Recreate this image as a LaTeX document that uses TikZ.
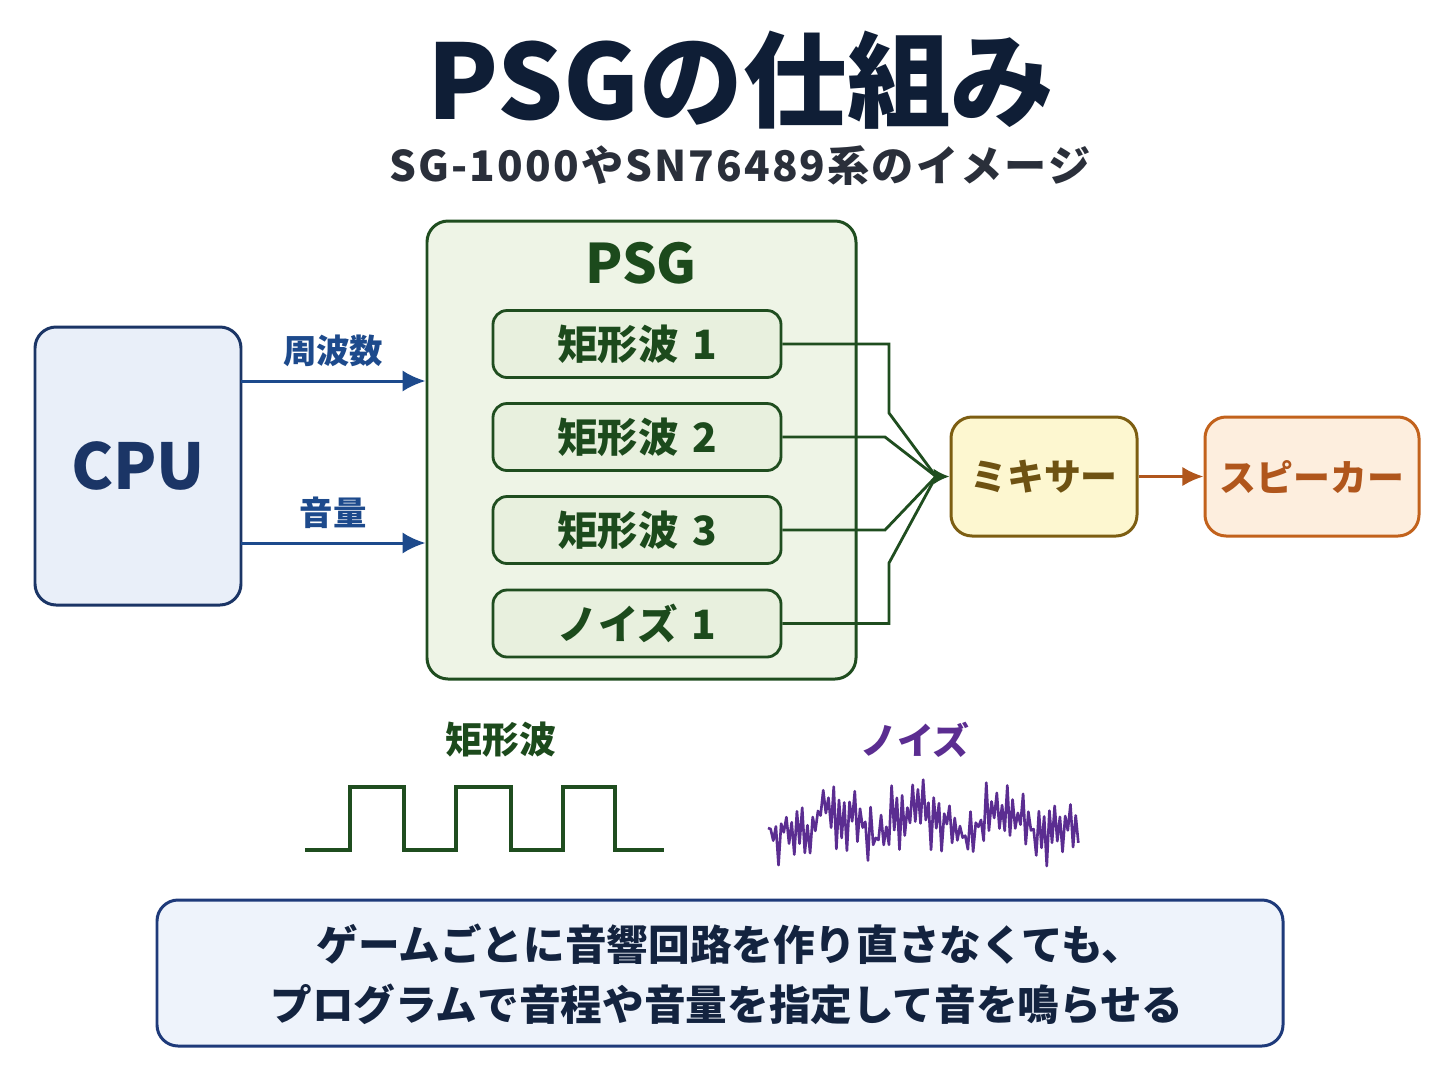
\documentclass[tikz,border=0pt]{standalone}
\usepackage{fontspec}
\setmainfont{Noto Sans CJK JP}
\newfontfamily\subfont{Noto Sans CJK JP}[LetterSpace=5]
\usetikzlibrary{arrows.meta}
\definecolor{titlec}{HTML}{0F1E36}
\definecolor{subc}{HTML}{2A2F3A}
\definecolor{cpub}{HTML}{1B3566}
\definecolor{cpuf}{HTML}{E9EFF9}
\definecolor{bluec}{HTML}{1D4A8C}
\definecolor{grb}{HTML}{1F4D1F}
\definecolor{grf}{HTML}{EEF4E6}
\definecolor{grfi}{HTML}{E8F0DE}
\definecolor{grt}{HTML}{1C4A1C}
\definecolor{mixf}{HTML}{FDF7D0}
\definecolor{mixb}{HTML}{7D5E12}
\definecolor{mixt}{HTML}{6E5212}
\definecolor{spkf}{HTML}{FDEEDE}
\definecolor{spkb}{HTML}{C2621C}
\definecolor{spkt}{HTML}{B0561C}
\definecolor{purp}{HTML}{5B2D91}
\definecolor{botf}{HTML}{EEF3FB}
\definecolor{botb}{HTML}{1E3A7A}
\definecolor{bott}{HTML}{13233F}
\tikzset{
  box/.style={draw, rounded corners=12pt, line width=1.7pt, inner sep=0pt},
  wavebox/.style={draw=grb, fill=grfi, rounded corners=8pt, line width=1.6pt, minimum width=288*0.02cm, minimum height=67*0.02cm, inner sep=0pt, text=grt, font=\fontsize{23}{26}\selectfont\bfseries},
  bluearrow/.style={draw=bluec, line width=1.7pt, -{Latex[length=13pt,width=12pt]}},
  greenline/.style={draw=grb, line width=1.6pt},
  bottext/.style={text=bott, font=\fontsize{23.7}{26}\selectfont\bfseries},
}
\begin{document}
\begin{tikzpicture}[x=0.02cm, y=-0.02cm]
\useasboundingbox (0,0) rectangle (1448,1086);
\fill[white] (0,0) rectangle (1448,1086);
% title
\node[text=titlec, font=\fontsize{59}{64}\selectfont\bfseries] (title) at (741,80) {PSGの仕組み};
\node[text=subc, font=\subfont\fontsize{24}{28}\selectfont\bfseries] (sub) at (740,166) {SG-1000やSN76489系のイメージ};
% CPU
\node[box, draw=cpub, fill=cpuf, minimum width=206*0.02cm, minimum height=278*0.02cm, text=cpub, font=\fontsize{36}{40}\selectfont\bfseries] (cpu) at (138,466) {CPU};
% PSG outer
\node[box, draw=grb, fill=grf, minimum width=429*0.02cm, minimum height=458*0.02cm] (psg) at (641.5,450) {};
\node[text=grt, font=\fontsize{31}{34}\selectfont\bfseries] (psgt) at (641,263) {PSG};
% inner boxes
\node[wavebox] (w1) at (637,344) {矩形波\,\,1};
\node[wavebox] (w2) at (637,437) {矩形波\,\,2};
\node[wavebox] (w3) at (637,530) {矩形波\,\,3};
\node[wavebox] (w4) at (637,623.5) {ノイズ\,\,1};
% arrows from CPU
\coordinate (a1) at (241,381);
\coordinate (a2) at (241,543);
\draw[bluearrow] (a1) -- (a1 -| psg.west) node[midway, above=4pt, text=bluec, font=\fontsize{19}{22}\selectfont\bfseries] (lf) {周波数};
\draw[bluearrow] (a2) -- (a2 -| psg.west) node[midway, above=4pt, text=bluec, font=\fontsize{19}{22}\selectfont\bfseries] (lv) {音量};
% mixer and speaker
\node[box, draw=mixb, fill=mixf, minimum width=186*0.02cm, minimum height=119*0.02cm, text=mixt, font=\fontsize{21}{24}\selectfont\bfseries] (mix) at (1044,476.5) {ミキサー};
\node[box, draw=spkb, fill=spkf, minimum width=214*0.02cm, minimum height=119*0.02cm, text=spkt, font=\fontsize{21}{24}\selectfont\bfseries] (spk) at (1312,476.5) {スピーカー};
\draw[draw=spkt, line width=1.7pt, -{Latex[length=12pt,width=11pt]}] (mix.east) -- (spk.west);
% connectors into mixer
\coordinate (j) at (936,476.5);
\draw[greenline, line join=miter] (w1.east) -- (889,344) -- (889,413) -- (j);
\draw[greenline] (w2.east) -- (885,437) -- (j);
\draw[greenline] (w3.east) -- (885,530) -- (j);
\draw[greenline, line join=miter] (w4.east) -- (889,623.5) -- (889,563) -- (j);
\draw[greenline, -{Latex[length=9pt,width=9pt]}] (j) -- (mix.west);
% waveform labels
\node[text=grt, font=\fontsize{21}{24}\selectfont\bfseries] (sqlab) at (501,740) {矩形波};
\node[text=purp, font=\fontsize{21}{24}\selectfont\bfseries] (nzlab) at (915,740) {ノイズ};
% square wave
\draw[draw=grb, line width=1.8pt] (305,850) -- (350,850) -- (350,787) -- (404,787) -- (404,850) -- (456,850) -- (456,787) -- (511,787) -- (511,850) -- (563,850) -- (563,787) -- (615,787) -- (615,850) -- (664,850);
% noise
\pgfmathsetseed{977}
\draw[draw=purp, line width=1.5pt, line join=round] (768,828) \foreach \i in {1,...,118} { -- ({768+\i*2.63},{822+11*sin(\i*11)+8*sin(\i*29)+((-1)^\i)*(5+17*rnd)+15*rand}) };
% bottom box
\node[box, draw=botb, fill=botf, minimum width=1126*0.02cm, minimum height=146*0.02cm] (bot) at (720,973) {};
\node[bottext] (b1) at (730,944) {ゲームごとに音響回路を作り直さなくても、};
\node[bottext] (b2) at (727,1004) {プログラムで音程や音量を指定して音を鳴らせる};
\end{tikzpicture}
\end{document}
